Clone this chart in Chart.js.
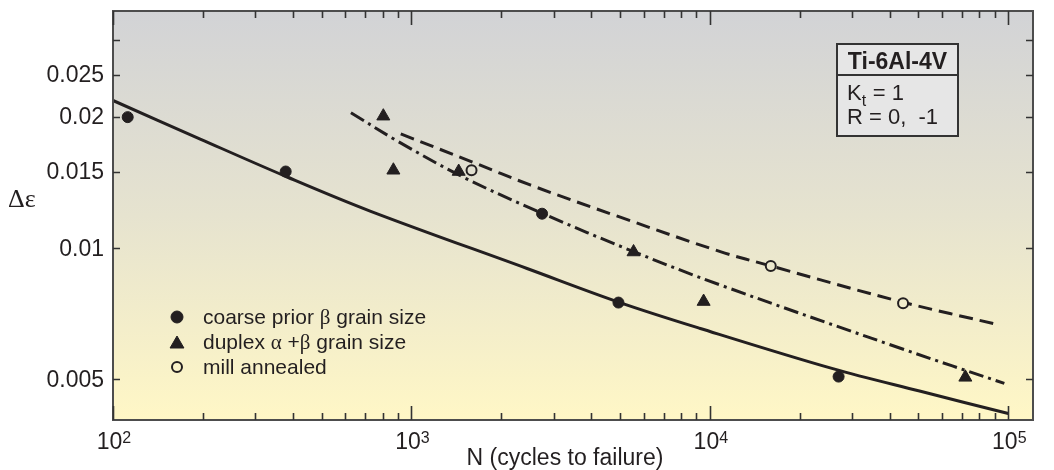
<!DOCTYPE html>
<html>
<head>
<meta charset="utf-8">
<script src="https://cdn.jsdelivr.net/npm/chart.js@4.4.1/dist/chart.umd.min.js"></script>
<style>
html, body { margin: 0; padding: 0; background: #fff; }
canvas { display: block; }
</style>
</head>
<body>
<canvas id="graph" width="1054" height="470"></canvas>
<script>
// test points (N cycles, strain range)
const coarseN = [112, 379, 2740, 4940, 27000];
const coarseStrain = [0.0200, 0.0150, 0.0120, 0.0075, 0.00507];
const duplexN = [805, 870, 1440, 5550, 9530, 71800];
const duplexStrain = [0.0201, 0.0151, 0.0150, 0.0098, 0.00754, 0.00505];
const millN = [1590, 16000, 44400];
const millStrain = [0.0151, 0.0091, 0.00747];

// curves
const coarseFitN = [100, 196, 380, 727, 2440, 4940, 9290, 26000, 50800, 100000];
const coarseFitStrain = [0.02184, 0.01781, 0.01461, 0.01217, 0.00898, 0.00752, 0.00654, 0.00528, 0.00469, 0.00417];
const duplexFitN = [627, 904, 1494, 2740, 5550, 10840, 43500, 97000];
const duplexFitStrain = [0.02047, 0.01757, 0.01455, 0.01203, 0.00982, 0.00823, 0.00589, 0.00489];
const millFitN = [921, 1586, 2500, 5010, 10840, 16030, 43500, 93600];
const millFitStrain = [0.0183, 0.01581, 0.01397, 0.01178, 0.00982, 0.0091, 0.00754, 0.00666];

// axes
const xDecades = [100, 1000, 10000, 100000];
const xExponents = ['2', '3', '4', '5'];
const yTicks = [0.005, 0.01, 0.015, 0.02, 0.025, 0.03];
const yTickLabels = ['0.005', '0.01', '0.015', '0.02', '0.025', ''];

const legendLabels = ['coarse prior β grain size', 'duplex α +β grain size', 'mill annealed'];
const boxTitle = 'Ti-6Al-4V';

const ink = '#231f20';
const sans = '"Liberation Sans", Arial, sans-serif';
const serif = '"Liberation Serif", "Times New Roman", serif';

function toPoints(xs, ys) {
    return xs.map((x, i) => ({ x: x, y: ys[i] }));
}

let gradCache = null;
function areaGradient(chart) {
    const a = chart.chartArea;
    if (!a) return '#e8e5ce';
    if (!gradCache || gradCache.top !== a.top || gradCache.bottom !== a.bottom) {
        const g = chart.ctx.createLinearGradient(0, a.top, 0, a.bottom);
        g.addColorStop(0, '#d2d3d6');
        g.addColorStop(0.5, '#e6e3cf');
        g.addColorStop(1, '#fff7c6');
        gradCache = { top: a.top, bottom: a.bottom, g: g };
    }
    return gradCache.g;
}

// text with greek letters in a serif face
function drawMixed(ctx, text, x, y, size) {
    let cx = x;
    for (const ch of text) {
        ctx.font = /[α-ωΑ-Ω]/.test(ch) ? size + 'px ' + serif : size + 'px ' + sans;
        ctx.fillText(ch, cx, y);
        cx += ctx.measureText(ch).width;
    }
}

const decor = {
    id: 'decor',
    beforeDraw(chart) {
        const { ctx, chartArea: a } = chart;
        ctx.save();
        ctx.fillStyle = '#fff';
        ctx.fillRect(0, 0, chart.width, chart.height);
        ctx.fillStyle = areaGradient(chart);
        ctx.fillRect(a.left, a.top, a.right - a.left, a.bottom - a.top);
        ctx.restore();
    },
    afterDraw(chart) {
        const { ctx, chartArea: a } = chart;
        const xs = chart.scales.x, ys = chart.scales.y;
        ctx.save();

        // frame
        ctx.strokeStyle = '#4d4d4d';
        ctx.lineWidth = 2;
        ctx.strokeRect(a.left, a.top, a.right - a.left, a.bottom - a.top);

        // inward ticks
        ctx.strokeStyle = '#333';
        ctx.lineWidth = 1.6;
        ctx.beginPath();
        xDecades.forEach((d, k) => {
            for (let m = 1; m <= 9; m++) {
                const v = d * m;
                if (v > xs.max || (k === xDecades.length - 1 && m > 1)) continue;
                const px = Math.round(xs.getPixelForValue(v)) + 0.5;
                const len = m === 1 ? 14 : 7;
                ctx.moveTo(px, a.bottom); ctx.lineTo(px, a.bottom - len);
                ctx.moveTo(px, a.top); ctx.lineTo(px, a.top + len);
            }
        });
        yTicks.forEach(v => {
            const py = Math.round(ys.getPixelForValue(v)) + 0.5;
            ctx.moveTo(a.left, py); ctx.lineTo(a.left + 7, py);
            ctx.moveTo(a.right, py); ctx.lineTo(a.right - 7, py);
        });
        ctx.stroke();

        // y tick labels
        ctx.fillStyle = ink;
        ctx.font = '23px ' + sans;
        ctx.textAlign = 'right';
        ctx.textBaseline = 'middle';
        yTicks.forEach((v, i) => {
            ctx.fillText(yTickLabels[i], a.left - 9, ys.getPixelForValue(v) + 1);
        });

        // x tick labels 10^n
        ctx.textBaseline = 'alphabetic';
        ctx.textAlign = 'left';
        xDecades.forEach((d, i) => {
            ctx.font = '23px ' + sans;
            const w1 = ctx.measureText('10').width;
            ctx.font = '16px ' + sans;
            const w2 = ctx.measureText(xExponents[i]).width;
            const px = xs.getPixelForValue(d);
            const x0 = px - (w1 + w2) / 2 + 1;
            ctx.font = '23px ' + sans;
            ctx.fillText('10', x0, 449);
            ctx.font = '16px ' + sans;
            ctx.fillText(xExponents[i], x0 + w1, 443);
        });

        // axis titles
        ctx.font = '23px ' + sans;
        ctx.textAlign = 'center';
        ctx.fillText('N (cycles to failure)', 565, 465);
        ctx.textAlign = 'left';
        ctx.font = '26px ' + serif;
        ctx.fillText('Δε', 8, 207);

        // legend
        const markers = [
            { pointStyle: 'circle', radius: 6, fill: ink },
            { pointStyle: 'triangle', radius: 8, fill: ink },
            { pointStyle: 'circle', radius: 5, fill: areaGradient(chart) }
        ];
        legendLabels.forEach((label, i) => {
            const cy = 317 + i * 25;
            const mk = markers[i];
            ctx.fillStyle = mk.fill;
            ctx.strokeStyle = ink;
            ctx.lineWidth = i === 2 ? 2 : 1;
            Chart.helpers.drawPoint(ctx, { pointStyle: mk.pointStyle, radius: mk.radius, borderWidth: ctx.lineWidth, rotation: 0 }, 177, cy + (i === 1 ? 2 : 0));
            ctx.fillStyle = ink;
            drawMixed(ctx, label, 203, cy + 7, 21);
        });

        // info box
        const bx = 837, by = 44, bw = 121, bh = 92;
        ctx.fillStyle = '#e6e6e6';
        ctx.fillRect(bx, by, bw, bh);
        ctx.strokeStyle = '#333';
        ctx.lineWidth = 2;
        ctx.strokeRect(bx, by, bw, bh);
        ctx.beginPath();
        ctx.moveTo(bx, by + 31); ctx.lineTo(bx + bw, by + 31);
        ctx.stroke();
        ctx.fillStyle = ink;
        ctx.font = 'bold 23px ' + sans;
        ctx.textAlign = 'center';
        ctx.fillText(boxTitle, bx + bw / 2, by + 25);
        ctx.textAlign = 'left';
        ctx.font = '22px ' + sans;
        ctx.fillText('K', bx + 10, by + 56);
        const kw = ctx.measureText('K').width;
        ctx.font = '16px ' + sans;
        ctx.fillText('t', bx + 10 + kw, by + 62);
        ctx.font = '22px ' + sans;
        ctx.fillText(' = 1', bx + 10 + kw + 5, by + 56);
        ctx.fillText('R = 0,  -1', bx + 10, by + 80);

        ctx.restore();
    }
};

const lineStyle = {
    type: 'line',
    showLine: true,
    pointRadius: 0,
    borderColor: ink,
    borderWidth: 3,
    fill: false,
    tension: 0.35
};

const myChart = new Chart(document.getElementById('graph').getContext('2d'), {
    type: 'scatter',
    data: {
        datasets: [
            {
                label: 'coarse prior β grain size',
                data: toPoints(coarseN, coarseStrain),
                pointStyle: 'circle',
                pointRadius: 5.5,
                pointBorderWidth: 1,
                backgroundColor: ink,
                borderColor: ink
            },
            {
                label: 'duplex α +β grain size',
                data: toPoints(duplexN, duplexStrain),
                pointStyle: 'triangle',
                pointRadius: 7.5,
                pointBorderWidth: 1,
                backgroundColor: ink,
                borderColor: ink
            },
            {
                label: 'mill annealed',
                data: toPoints(millN, millStrain),
                pointStyle: 'circle',
                pointRadius: 5,
                pointBorderWidth: 2,
                backgroundColor: ctx => areaGradient(ctx.chart),
                borderColor: ink
            },
            Object.assign({ label: 'coarse fit', data: toPoints(coarseFitN, coarseFitStrain) }, lineStyle),
            Object.assign({ label: 'duplex fit', data: toPoints(duplexFitN, duplexFitStrain), borderDash: [15, 5, 3, 5] }, lineStyle),
            Object.assign({ label: 'mill fit', data: toPoints(millFitN, millFitStrain), borderDash: [14, 7] }, lineStyle)
        ]
    },
    options: {
        responsive: false,
        animation: false,
        devicePixelRatio: 1,
        layout: { padding: { left: 113, right: 21, top: 11, bottom: 50 } },
        plugins: {
            legend: { display: false },
            tooltip: { enabled: false }
        },
        scales: {
            x: { type: 'logarithmic', min: 100, max: 121000, display: false },
            y: { type: 'logarithmic', min: 0.00403, max: 0.03506, display: false }
        }
    },
    plugins: [decor]
});
</script>
</body>
</html>
